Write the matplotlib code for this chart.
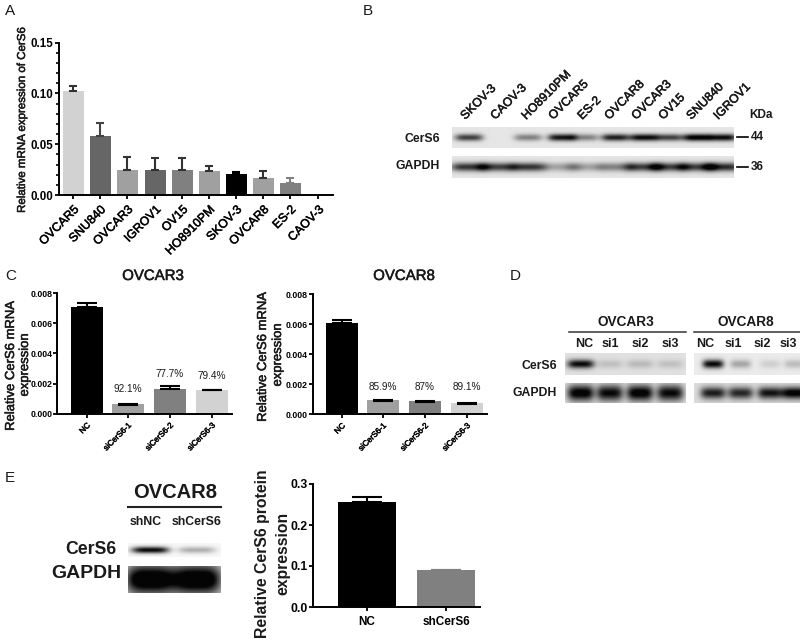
import numpy as np
import matplotlib
matplotlib.use('Agg')
import matplotlib.pyplot as plt
import matplotlib.patheffects as pe
from matplotlib.ticker import MultipleLocator

plt.rcParams['font.family'] = ['Liberation Sans', 'DejaVu Sans']

# panel A
a_names = ['OVCAR5', 'SNU840', 'OVCAR3', 'IGROV1', 'OV15', 'HO8910PM', 'SKOV-3', 'OVCAR8', 'ES-2', 'CAOV-3']
a_vals = [0.102, 0.058, 0.025, 0.0245, 0.0245, 0.024, 0.0205, 0.017, 0.012, 0.0]
a_tops = [0.107, 0.071, 0.037, 0.036, 0.036, 0.029, 0.0225, 0.024, 0.017, 0.0]
a_cols = ['#d2d2d2', '#666666', '#a0a0a0', '#666666', '#808080', '#a0a0a0', '#000000', '#a0a0a0', '#808080', '#808080']
a_errs = ['#333333', '#444444', '#333333', '#333333', '#333333', '#333333', '#000000', '#333333', '#808080', '#808080']

# panel C
c_names = ['NC', 'siCerS6-1', 'siCerS6-2', 'siCerS6-3']
c_cols = ['#000000', '#a0a0a0', '#808080', '#d2d2d2']
c_errs = ['#000000'] * 4
c3_vals = [0.0071, 0.00065, 0.00165, 0.00155]
c3_tops = [0.00733, 0.00055, 0.00182, 0.00158]
c3_pct = ['', '92.1%', '77.7%', '79.4%']
c8_vals = [0.0061, 0.00095, 0.00088, 0.00075]
c8_tops = [0.00625, 0.00085, 0.0008, 0.00066]
c8_pct = ['', '85.9%', '87%', '89.1%']

# panel E
e_names = ['NC', 'shCerS6']
e_vals = [0.256, 0.09]
e_tops = [0.268, 0.091]
e_cols = ['#000000', '#808080']
e_errs = ['#000000', '#808080']

# blots: lane centre (fraction of strip), band darkness
b_names = ['SKOV-3', 'CAOV-3', 'HO8910PM', 'OVCAR5', 'ES-2', 'OVCAR8', 'OVCAR3', 'OV15', 'SNU840', 'IGROV1']
b_lanes = [0.06, 0.16, 0.27, 0.39, 0.47, 0.58, 0.68, 0.77, 0.87, 0.96]
b_cers6 = [0.75, 0.0, 0.45, 0.95, 0.45, 0.9, 1.0, 0.75, 1.1, 1.0]
b_gapdh = [0.8, 0.75, 0.8, 0.3, 0.3, 0.45, 0.75, 0.75, 0.75, 0.85]
d3_lanes = [0.13, 0.37, 0.62, 0.87]
d3_cers6 = [1.0, 0.15, 0.18, 0.15]
d3_gapdh = [1.1, 1.0, 1.1, 1.0]
d8_lanes = [0.18, 0.44, 0.72, 0.95]
d8_cers6 = [1.0, 0.3, 0.12, 0.2]
d8_gapdh = [0.9, 0.85, 0.95, 1.1]
e_lanes = [0.24, 0.74]
e_cers6 = [1.0, 0.3]
e_gapdh = [1.3, 1.3]

fig = plt.figure(figsize=(8, 6.43), dpi=100)
W, H = 800.0, 643.0
medium = [pe.withStroke(linewidth=0.4, foreground='#222222')]


def px_axes(left, top, right, bottom):
    return fig.add_axes([left / W, 1 - bottom / H, (right - left) / W, (bottom - top) / H])


bg = fig.add_axes([0, 0, 1, 1])
bg.set_xlim(0, W)
bg.set_ylim(H, 0)
bg.axis('off')


def bar_panel(box, centers, names, vals, tops, cols, errs, width, cap, ymax, step, fmt, tick_size, name_size, name_rot, minor=None):
    ax = px_axes(*box)
    ax.patch.set_alpha(0)
    ax.set_xlim(box[0], box[2])
    ax.set_ylim(0, ymax)
    ax.bar(centers, vals, width=width, color=cols)
    for x, v, t, c in zip(centers, vals, tops, errs):
        if t != v:
            ax.errorbar(x, v, yerr=[[0], [t - v]] if t > v else [[v - t], [0]], color=c,
                        capsize=cap, capthick=1.5, elinewidth=1.5)
    ax.spines['top'].set_visible(False)
    ax.spines['right'].set_visible(False)
    ax.spines['left'].set_linewidth(1.4)
    ax.spines['bottom'].set_linewidth(1.4)
    if minor:
        ax.yaxis.set_minor_locator(MultipleLocator(minor))
        ax.tick_params(axis='y', which='minor', length=2, width=1.2)
    ticks = np.arange(0, ymax + step / 2, step)
    ax.set_yticks(ticks)
    ax.set_yticklabels([fmt.format(v) for v in ticks], fontweight='bold', fontsize=tick_size)
    ax.set_xticks(centers)
    if name_rot:
        labels = ax.set_xticklabels(names, rotation=name_rot, ha='right', rotation_mode='anchor', fontsize=name_size)
        for lab in labels:
            lab.set_path_effects(medium)
    else:
        ax.set_xticklabels(names, fontsize=name_size, fontweight='bold')
    ax.tick_params(axis='y', which='major', length=3.2, width=1.3, pad=0.5)
    ax.tick_params(axis='x', which='major', length=3.2, width=1.3, pad=3)
    return ax


def blot(box, lanes, levels, band_h, band_w, bg_grey=0.93):
    left, top, right, bottom = box
    h = int(bottom - top) * 3
    w = int(right - left) * 3
    xx, yy = np.meshgrid(np.linspace(0, 1, w), np.linspace(0, 1, h))
    dark = np.zeros((h, w))
    for lane, lev in zip(lanes, levels):
        dark += lev * np.exp(-((xx - lane) / band_w) ** 4) * np.exp(-((yy - 0.5) / band_h) ** 2)
    img = bg_grey - (bg_grey - 0.02) * np.clip(dark, 0, 1)
    ax = px_axes(*box)
    ax.imshow(img, cmap='gray', vmin=0, vmax=1, aspect='auto', interpolation='bilinear')
    ax.axis('off')


def label(x, y, s, size, ha='center', rot=0, bold=False, heavy=False):
    t = bg.text(x, y, s, ha=ha, va='center', fontsize=size, rotation=rot, color='#1a1a1a',
                fontweight='bold' if bold else 'normal')
    if heavy:
        t.set_path_effects(medium)
    return t


# A
bar_panel((58.7, 42.7, 333, 195), [73, 100, 127, 155, 182, 209, 236, 263, 290, 318], a_names, a_vals, a_tops, a_cols, a_errs,
          21, 3.2, 0.15, 0.05, '{:.2f}', 8.3, 8.8, 45, minor=0.01)
label(22, 120, 'Relative mRNA expression of CerS6', 8.3, rot=90, heavy=True)
label(5, 11, 'A', 11, ha='left')

# B
blot((452, 127, 733, 148), b_lanes, b_cers6, 0.17, 0.05, 0.9)
blot((452, 156, 733, 178), b_lanes, b_gapdh, 0.2, 0.065, 0.9)
b_x = [463, 493, 524, 551, 580, 607, 634, 661, 689, 716]
for x, name in zip(b_x, b_names):
    t = bg.text(x, 118, name, rotation=45, ha='left', va='center', rotation_mode='anchor', fontsize=8.8, color='#1a1a1a')
    t.set_path_effects(medium)
label(440, 139, 'CerS6', 8.8, ha='right', bold=True)
label(440, 166, 'GAPDH', 8.8, ha='right', bold=True)
label(749, 115, 'KDa', 8.5, ha='left', bold=True)
bg.plot([737, 748], [137, 137], color='black', lw=1.2)
bg.plot([737, 748], [167, 167], color='black', lw=1.2)
label(751, 137, '44', 8.5, ha='left', bold=True)
label(751, 167, '36', 8.5, ha='left', bold=True)
label(363, 11, 'B', 11, ha='left')

# C
bar_panel((57.5, 293.3, 232, 413.7), [87, 128, 170, 212], c_names, c3_vals, c3_tops, c_cols, c_errs,
          32, 7, 0.008, 0.002, '{:.3f}', 6.3, 5.8, 45)
bar_panel((312.7, 294, 487, 414), [342, 383, 425, 467], c_names, c8_vals, c8_tops, c_cols, c_errs,
          32, 7, 0.008, 0.002, '{:.3f}', 6.3, 5.8, 45)
for x, y, s in zip([128, 170, 212], [389, 374, 376], c3_pct[1:]):
    label(x, y, s, 7.2)
for x, y, s in zip([383, 425, 467], [387, 387, 387], c8_pct[1:]):
    label(x, y, s, 7.2)
label(11, 366, 'Relative CerS6 mRNA', 9.4, rot=90, heavy=True)
label(25, 365, 'expression', 9.4, rot=90, heavy=True)
label(263, 357, 'Relative CerS6 mRNA', 9.4, rot=90, heavy=True)
label(278, 355, 'expression', 9.4, rot=90, heavy=True)
label(153, 276, 'OVCAR3', 10.8, heavy=True)
label(404, 276, 'OVCAR8', 10.8, heavy=True)
label(5, 276, 'C', 11, ha='left')

# D
blot((565, 353, 686, 375), d3_lanes, d3_cers6, 0.2, 0.11, 0.88)
blot((565, 383, 686, 403), d3_lanes, d3_gapdh, 0.4, 0.11, 0.86)
blot((694, 353, 800, 375), d8_lanes, d8_cers6, 0.2, 0.1, 0.92)
blot((694, 383, 800, 403), d8_lanes, d8_gapdh, 0.3, 0.12, 0.86)
bg.plot([569, 686], [332, 332], color='#333333', lw=1.1)
bg.plot([694, 800], [332, 332], color='#333333', lw=1.1)
label(626, 322, 'OVCAR3', 9.8, bold=True)
label(746, 322, 'OVCAR8', 9.8, bold=True)
for x, s in zip([584, 610, 640, 670, 705, 733, 762, 788], ['NC', 'si1', 'si2', 'si3'] * 2):
    label(x, 344, s, 9, bold=True)
label(557, 366, 'CerS6', 8.8, ha='right', bold=True)
label(557, 393, 'GAPDH', 8.8, ha='right', bold=True)
label(510, 276, 'D', 11, ha='left')

# E
blot((128, 543, 221, 557), e_lanes, e_cers6, 0.24, 0.2, 0.97)
blot((128, 566, 221, 593), e_lanes, e_gapdh, 0.55, 0.26, 0.85)
bg.plot([128, 221], [507, 507], color='#222222', lw=1.5)
label(175, 492, 'OVCAR8', 14.5, bold=True)
label(146, 522, 'shNC', 8.8, bold=True)
label(197, 522, 'shCerS6', 8.8, bold=True)
label(116, 549, 'CerS6', 12.7, ha='right', bold=True)
label(121, 573, 'GAPDH', 14, ha='right', bold=True)
bar_panel((313, 484, 480, 607), [367, 446], e_names, e_vals, e_tops, e_cols, e_errs,
          58, 10.8, 0.3, 0.1, '{:.1f}', 8.8, 8.5, 0)
label(262, 554, 'Relative CerS6 protein', 11.3, rot=90, bold=True)
label(283, 553, 'expression', 11.3, rot=90, bold=True)
label(5, 478, 'E', 11, ha='left')

fig.savefig('out.png', dpi=100)
